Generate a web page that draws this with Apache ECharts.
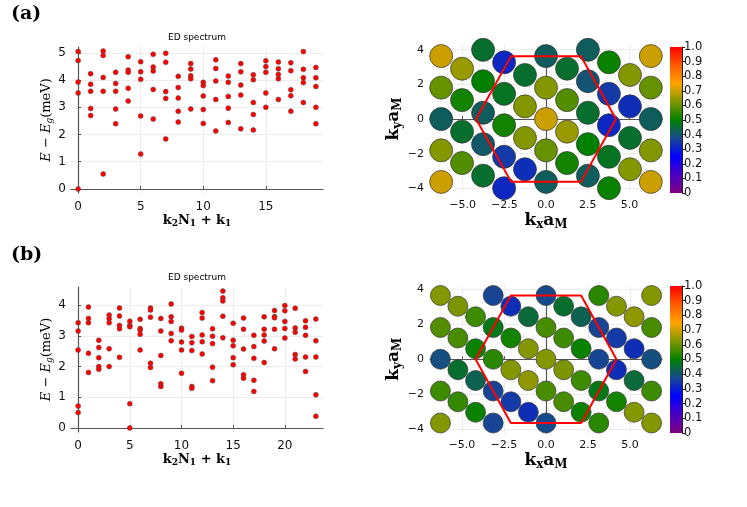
<!DOCTYPE html>
<html><head><meta charset="utf-8">
<script src="https://cdn.jsdelivr.net/npm/echarts@6/dist/echarts.min.js"></script>
<style>html,body{margin:0;padding:0;background:#fff}#c{width:747px;height:507px}</style>
</head><body><div id="c"></div>
<script>
// ---- ED spectrum (a): energies per momentum index k2*N1+k1 ----
const energiesA = [
[5.05,4.72,3.93,3.53,0.00],[4.24,3.85,3.59,2.96,2.70],[5.07,4.91,4.10,3.59,0.55],
[4.29,3.88,3.59,2.94,2.40],[4.86,4.37,4.29,3.70,3.23],[4.68,4.31,4.03,2.68,1.28],
[4.95,4.48,4.34,3.66,2.57],[4.99,4.66,3.58,3.33,1.84],[4.14,3.73,3.34,2.86,2.46],
[4.61,4.41,4.16,4.05,2.94],[3.92,3.80,3.42,2.92,2.41],[4.75,4.43,3.97,3.29,2.13],
[4.15,3.92,3.40,2.97,2.44],[4.61,4.31,3.82,3.45,2.21],[4.20,4.02,3.18,2.74,2.17],
[4.71,4.50,4.29,3.53,3.00],[4.67,4.42,4.21,4.05,3.29],[4.64,4.35,3.65,3.43,2.86],
[5.05,4.40,4.09,3.91,3.18],[4.47,4.09,3.77,3.00,2.40]
];
// ---- ED spectrum (b) ----
const energiesB = [
[3.43,3.16,2.54,0.71,0.50],[3.94,3.57,3.43,2.43,1.81],[2.86,2.62,2.29,2.00,1.91],
[3.68,3.56,3.43,2.58,2.00],[3.91,3.65,3.34,3.23,2.30],[3.48,3.35,3.30,0.79,0.00],
[3.54,3.24,3.19,3.05,2.54],[3.91,3.84,3.61,2.11,1.97],[3.57,3.16,2.36,1.44,1.35],
[4.04,3.62,3.47,3.08,2.84],[3.25,3.19,2.80,2.54,1.78],[2.98,2.78,2.52,1.35,1.29],
[3.76,3.58,3.03,2.81,2.41],[3.23,2.99,2.75,1.98,1.54],[4.46,4.24,4.14,3.64,2.94],
[3.41,2.86,2.68,2.29,2.06],[3.58,3.22,2.57,1.73,1.62],[3.02,2.65,2.27,1.55,1.19],
[3.62,3.22,3.03,2.83,2.13],[3.83,3.63,3.59,3.22,2.58],[3.99,3.82,3.47,3.24,2.93],
[3.90,3.26,3.12,2.39,2.25],[3.49,3.28,3.02,2.31,1.84],[3.55,2.84,2.31,1.08,0.38]
];
// ---- momentum-space points (a) ----
const kxA = [-6.28,-6.28,-6.28,-6.28,-6.28, -5.03,-5.03,-5.03,-5.03, -3.77,-3.77,-3.77,-3.77,-3.77,
 -2.51,-2.51,-2.51,-2.51,-2.51, -1.26,-1.26,-1.26,-1.26, 0,0,0,0,0, 1.26,1.26,1.26,1.26,
 2.51,2.51,2.51,2.51,2.51, 3.77,3.77,3.77,3.77,3.77, 5.03,5.03,5.03,5.03, 6.28,6.28,6.28,6.28,6.28];
const kyA = [3.63,1.81,0,-1.81,-3.63, 2.90,1.09,-0.73,-2.54, 3.99,2.18,0.36,-1.45,-3.27,
 3.27,1.45,-0.36,-2.18,-3.99, 2.54,0.73,-1.09,-2.90, 3.63,1.81,0,-1.81,-3.63, 2.90,1.09,-0.73,-2.54,
 3.99,2.18,0.36,-1.45,-3.27, 3.27,1.45,-0.36,-2.18,-3.99, 2.54,0.73,-1.09,-2.90, 3.63,1.81,0,-1.81,-3.63];
const wA = [0.70,0.60,0.42,0.63,0.70, 0.65,0.52,0.46,0.58, 0.46,0.50,0.42,0.41,0.46,
 0.32,0.47,0.52,0.35,0.32, 0.46,0.63,0.63,0.33, 0.42,0.63,0.70,0.60,0.42, 0.46,0.58,0.65,0.52,
 0.42,0.40,0.46,0.50,0.42, 0.51,0.35,0.32,0.47,0.51, 0.63,0.33,0.46,0.63, 0.70,0.60,0.42,0.63,0.70];
// ---- momentum-space points (b) ----
const kxB = [-6.28,-6.28,-6.28,-6.28,-6.28, -5.24,-5.24,-5.24,-5.24, -4.19,-4.19,-4.19,-4.19,
 -3.14,-3.14,-3.14,-3.14,-3.14, -2.09,-2.09,-2.09,-2.09, -1.05,-1.05,-1.05,-1.05, 0,0,0,0,0,
 1.05,1.05,1.05,1.05, 2.09,2.09,2.09,2.09, 3.14,3.14,3.14,3.14,3.14, 4.19,4.19,4.19,4.19,
 5.24,5.24,5.24,5.24, 6.28,6.28,6.28,6.28,6.28];
const kyB = [3.63,1.81,0,-1.81,-3.63, 3.02,1.21,-0.60,-2.42, 2.42,0.60,-1.21,-3.02,
 3.63,1.81,0,-1.81,-3.63, 3.02,1.21,-0.60,-2.42, 2.42,0.60,-1.21,-3.02, 3.63,1.81,0,-1.81,-3.63,
 3.02,1.21,-0.60,-2.42, 2.42,0.60,-1.21,-3.02, 3.63,1.81,0,-1.81,-3.63, 3.02,1.21,-0.60,-2.42,
 2.42,0.60,-1.21,-3.02, 3.63,1.81,0,-1.81,-3.63];
const wB = [0.63,0.58,0.39,0.56,0.63, 0.62,0.57,0.46,0.55, 0.56,0.51,0.43,0.51,
 0.37,0.48,0.54,0.37,0.37, 0.33,0.52,0.63,0.35, 0.45,0.63,0.64,0.33, 0.38,0.57,0.63,0.57,0.38,
 0.46,0.56,0.62,0.57, 0.43,0.51,0.56,0.51, 0.54,0.37,0.37,0.48,0.54, 0.63,0.35,0.33,0.52,
 0.64,0.33,0.45,0.63, 0.63,0.57,0.39,0.56,0.63];
// ---- Brillouin zone hexagon ----
const bzX = [4.19, 2.09, -2.09, -4.19, -2.09, 2.09, 4.19];
const bzY = [0, 3.628, 3.628, 0, -3.628, -3.628, 0];
// ---- tick labels ----
const specXTicksA = [0,5,10,15];
const specYTicksA = [0,1,2,3,4,5];
const specXTicksB = [0,5,10,15,20];
const specYTicksB = [0,1,2,3,4];
const kXTicks = [-5,-2.5,0,2.5,5];
const kYTicks = [-4,-2,0,2,4];
const cmap = ['#800080','#4b00c0','#0000ff','#184890','#008000','#809600','#ffa500','#ff5a00','#ff0000'];

const specData = E => { const d=[]; E.forEach((col,k)=>col.forEach(e=>d.push([k,e]))); return d; };
const latData = (x,y,w) => x.map((v,i)=>[v,y[i],w[i]]);
const bzData = bzX.map((v,i)=>[v,bzY[i]]);

const SANS = 'DejaVu Sans', SERIF = 'DejaVu Serif';
const minus = s => String(s).replace('-', '\u2212');
const axLine = {show:true, lineStyle:{color:'#555', width:1.2}};
const split = {show:true, lineStyle:{color:'#e8e8e8', width:0.8}};

function valAxis(gi, min, max, ticks, fmt, extra) {
  return Object.assign({
    type:'value', gridIndex:gi, min, max,
    axisLine: axLine,
    axisTick:{show:true, inside:true, length:3, customValues:ticks, lineStyle:{color:'#555'}},
    axisLabel:{customValues:ticks, formatter:fmt, fontFamily:SANS, fontSize:12, color:'#111'},
    splitLine: split
  }, extra||{});
}
const richSpecX = {
  b:{fontFamily:SERIF, fontWeight:'bold', fontSize:13, color:'#000'},
  s:{fontFamily:SERIF, fontWeight:'bold', fontSize:9, color:'#000', padding:[7,0,0,0]}
};
const richSpecY = {
  i:{fontFamily:SERIF, fontStyle:'italic', fontSize:13, color:'#000'},
  r:{fontFamily:SERIF, fontSize:13, color:'#000'},
  s:{fontFamily:SERIF, fontStyle:'italic', fontSize:9, color:'#000', padding:[7,0,0,0]}
};
const richK = {
  b:{fontFamily:SERIF, fontWeight:'bold', fontSize:17, color:'#000'},
  s:{fontFamily:SERIF, fontWeight:'bold', fontSize:12, color:'#000', padding:[9,0,0,0]}
};
const specXName = '{b|k}{s|2}{b|N}{s|1}{b| + k}{s|1}';
const specYName = '{i|E}{r| \u2212 }{i|E}{s|g}{r|(meV)}';

const grids = [
  {left:71, top:47, width:252, height:146},
  {left:430, top:45, width:232, height:148},
  {left:670, top:47, width:12, height:146},
  {left:71, top:287, width:252, height:145},
  {left:430, top:285.5, width:232, height:147.5},
  {left:670, top:286, width:12, height:147}
];
const intFmt = v => minus(v);
const decFmt = v => minus(v.toFixed(1));
const cbFmt = v => v === 0 ? '0' : v.toFixed(1);

const xAxes = [
  valAxis(0, -0.57, 19.57, specXTicksA, intFmt, {name:specXName, nameLocation:'middle', nameGap:13, nameTextStyle:{rich:richSpecX}}),
  valAxis(1, -6.95, 6.95, kXTicks, decFmt, {name:'{b|k}{s|x}{b|a}{s|M}', nameLocation:'middle', nameGap:14, nameTextStyle:{rich:richK}}),
  {type:'category', gridIndex:2, data:[''], show:false},
  valAxis(3, -0.69, 23.69, specXTicksB, intFmt, {name:specXName, nameLocation:'middle', nameGap:13, nameTextStyle:{rich:richSpecX}}),
  valAxis(4, -6.9, 6.9, kXTicks, decFmt, {name:'{b|k}{s|x}{b|a}{s|M}', nameLocation:'middle', nameGap:14, nameTextStyle:{rich:richK}}),
  {type:'category', gridIndex:5, data:[''], show:false}
];
xAxes[1].axisLabel.fontSize = 11; xAxes[1].axisLabel.margin = 7;
xAxes[4].axisLabel.fontSize = 11; xAxes[4].axisLabel.margin = 7;
const cbAxis = gi => ({type:'value', gridIndex:gi, min:0, max:1, interval:0.1, position:'right',
  axisLine:{show:true, lineStyle:{color:'#222', width:1}},
  axisTick:{show:true, length:3, lineStyle:{color:'#222'}},
  axisLabel:{formatter:cbFmt, fontFamily:SANS, fontSize:11.5, color:'#111', margin:2},
  splitLine:{show:false}});
const yAxes = [
  valAxis(0, -0.15, 5.22, specYTicksA, intFmt, {name:specYName, nameLocation:'middle', nameGap:14, nameTextStyle:{rich:richSpecY}}),
  valAxis(1, -4.27, 4.27, kYTicks, intFmt, {name:'{b|k}{s|y}{b|a}{s|M}', nameLocation:'middle', nameGap:20, nameTextStyle:{rich:richK}}),
  cbAxis(2),
  valAxis(3, -0.134, 4.594, specYTicksB, intFmt, {name:specYName, nameLocation:'middle', nameGap:14, nameTextStyle:{rich:richSpecY}}),
  valAxis(4, -4.2, 4.2, kYTicks, intFmt, {name:'{b|k}{s|y}{b|a}{s|M}', nameLocation:'middle', nameGap:20, nameTextStyle:{rich:richK}}),
  cbAxis(5)
];
yAxes[1].axisLabel.fontSize = 11; yAxes[1].axisLabel.margin = 6;
yAxes[4].axisLabel.fontSize = 11; yAxes[4].axisLabel.margin = 6;
yAxes[0].axisLabel.margin = 5; yAxes[3].axisLabel.margin = 5;

const cbGradient = {type:'linear', x:0, y:0, x2:0, y2:1,
  colorStops: cmap.slice().reverse().map((c,i,a)=>({offset:i/(a.length-1), color:c}))};

const specSeries = (xi, E) => ({type:'scatter', xAxisIndex:xi, yAxisIndex:xi, data:specData(E),
  symbolSize:5, itemStyle:{color:'#ff0000', borderColor:'#555', borderWidth:0.5, opacity:1}, z:3});
const latSeries = (xi, data, size) => ({type:'scatter', xAxisIndex:xi, yAxisIndex:xi, data,
  symbolSize:size, itemStyle:{borderColor:'#333', borderWidth:0.7, opacity:1}, z:2});
const bzSeries = xi => ({type:'line', xAxisIndex:xi, yAxisIndex:xi, data:bzData, symbol:'none',
  lineStyle:{color:'#ff0000', width:2}, z:5, silent:true});
const cbSeries = xi => ({type:'bar', xAxisIndex:xi, yAxisIndex:xi, data:[1], barWidth:'100%',
  itemStyle:{color:cbGradient}, silent:true});

const option = {
  animation:false,
  backgroundColor:'#ffffff',
  grid: grids,
  xAxis: xAxes,
  yAxis: yAxes,
  visualMap: [{type:'continuous', show:false, min:0, max:1, dimension:2, seriesIndex:[1,5], inRange:{color:cmap}}],
  graphic: [
    {type:'text', left:11, top:5, style:{text:'(a)', font:'bold 19px "DejaVu Serif"', fill:'#000'}},
    {type:'text', left:11, top:246, style:{text:'(b)', font:'bold 19px "DejaVu Serif"', fill:'#000'}},
    {type:'text', x:197, y:38, style:{text:'ED spectrum', font:'9px "DejaVu Sans"', fill:'#000', align:'center', verticalAlign:'middle'}},
    {type:'text', x:197, y:278, style:{text:'ED spectrum', font:'9px "DejaVu Sans"', fill:'#000', align:'center', verticalAlign:'middle'}}
  ],
  series: [
    specSeries(0, energiesA),
    latSeries(1, latData(kxA,kyA,wA), 23),
    bzSeries(1),
    cbSeries(2),
    specSeries(3, energiesB),
    latSeries(4, latData(kxB,kyB,wB), 20),
    bzSeries(4),
    cbSeries(5)
  ]
};
const chart = echarts.init(document.getElementById('c'), null, {renderer:'canvas'});
chart.setOption(option);
</script></body></html>
